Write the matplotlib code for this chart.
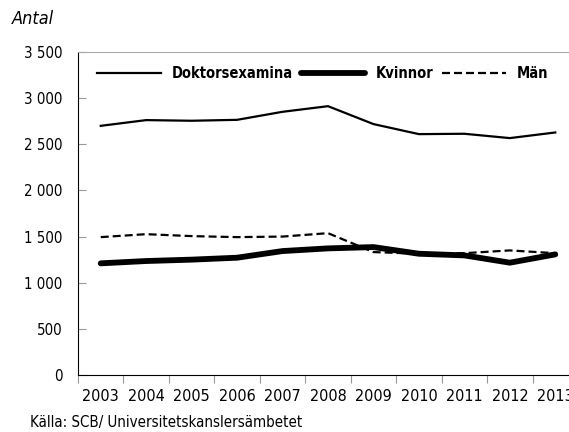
import os
import numpy as np
import matplotlib
matplotlib.use("Agg")
import matplotlib.pyplot as plt
from matplotlib import font_manager
from matplotlib.font_manager import FontProperties

# === Data ===
years = ["2003", "2004", "2005", "2006", "2007", "2008", "2009", "2010", "2011", "2012", "2013"]
doktor = [2700, 2762, 2755, 2765, 2852, 2913, 2719, 2610, 2614, 2567, 2628]
kvinnor = [1210, 1235, 1250, 1271, 1343, 1372, 1386, 1314, 1296, 1217, 1307]
man = [1494, 1526, 1505, 1494, 1500, 1537, 1332, 1314, 1320, 1350, 1320]
yticks = [0, 500, 1000, 1500, 2000, 2500, 3000, 3500]


# === Find a narrow font if one exists ===
def find_narrow(bold=False, italic=False):
    best = None
    for f in font_manager.fontManager.ttflist:
        key = (f.name + " " + os.path.basename(f.fname)).lower()
        if "narrow" not in key and "condensed" not in key:
            continue
        if "extra" in key or "ultra" in key:
            continue
        is_bold = f.weight in ("bold", 700) or "bold" in key
        if "semibold" in key or "extrabold" in key or "black" in key or "light" in key or "thin" in key or "medium" in key:
            if not (bold and "semibold" in key):
                continue
        is_ital = f.style != "normal"
        if is_bold != bold or is_ital != italic:
            continue
        score = 0
        if "liberation" in key:
            score += 3
        if "semi" not in key:
            score += 1
        if best is None or score > best[0]:
            best = (score, f.fname)
    return best[1] if best else None


def props(size, bold=False, italic=False):
    path = find_narrow(bold, italic)
    if path:
        return FontProperties(fname=path, size=size)
    return FontProperties(family="Liberation Sans", size=size,
                          weight="bold" if bold else "normal",
                          style="italic" if italic else "normal")


W, H = 569, 432
fig = plt.figure(figsize=(W / 100, H / 100), dpi=100)
# axes runs past the right edge, like the original crop
left, right, top, bottom = 78, 578, 52, 375
ax = fig.add_axes([left / W, 1 - bottom / H, (right - left) / W, (bottom - top) / H])

x = np.arange(len(years))
ax.plot(x, doktor, color="black", lw=1.6, label="Doktorsexamina")
ax.plot(x, kvinnor, color="black", lw=4.2, label="Kvinnor", solid_capstyle="round")
ax.plot(x, man, color="black", lw=1.6, ls=(0, (3.6, 1.8)), label="Män")

ax.set_xlim(-0.5, len(years) - 0.5)
ax.set_ylim(0, 3500)
ax.set_yticks(yticks)
ax.set_yticklabels([f"{v:,}".replace(",", " ") for v in yticks], fontproperties=props(10.8))

ax.set_xticks(np.arange(len(years) + 1) - 0.5)
ax.set_xticklabels([])
ax.set_xticks(x, minor=True)
ax.set_xticklabels(years, minor=True, fontproperties=props(11.5))
ax.tick_params(axis="x", which="major", length=6, color="#999999", direction="out")
ax.tick_params(axis="x", which="minor", length=0, pad=10)
ax.tick_params(axis="y", length=6, color="#999999", direction="in", pad=11)

ax.spines["left"].set_color("black")
ax.spines["bottom"].set_color("black")
ax.spines["top"].set_color("#aaaaaa")
ax.spines["right"].set_visible(False)

ax.legend(loc="center left", bbox_to_anchor=(19 / (right - left), 1 - 22 / (bottom - top)),
          ncol=3, frameon=False, prop=props(10.5, bold=True), handlelength=4.4,
          columnspacing=0.6, handletextpad=0.7, borderaxespad=0, borderpad=0)

fig.text(12 / W, 1 - 19 / H, "Antal", fontproperties=props(13, italic=True), va="center")
fig.text(30 / W, 1 - 423 / H, "Källa: SCB/ Universitetskanslersämbetet",
         fontproperties=props(10.8), va="center")

fig.savefig("out.png", dpi=100)
